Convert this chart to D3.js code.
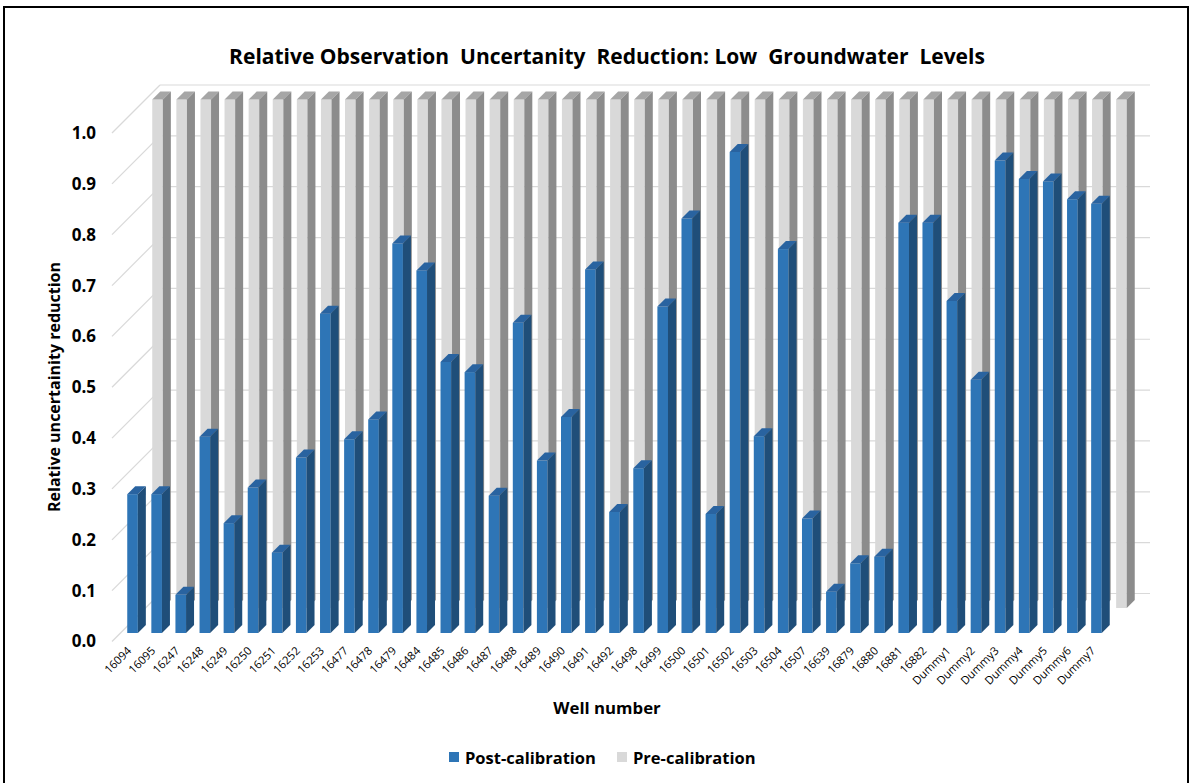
<!DOCTYPE html>
<html>
<head>
<meta charset="utf-8">
<script src="https://cdn.jsdelivr.net/npm/d3@7"></script>
<style>
  body { margin: 0; background: #fff; }
  svg text { font-family: "Open Sans", "Liberation Sans", sans-serif; fill: #000; }
</style>
</head>
<body>
<div id="chart"></div>
<script>
var wells = ["16094", "16095", "16247", "16248", "16249", "16250", "16251", "16252", "16253",
    "16477", "16478", "16479", "16484", "16485", "16486", "16487", "16488", "16489", "16490",
    "16491", "16492", "16498", "16499", "16500", "16501", "16502", "16503", "16504", "16507",
    "16639", "16879", "16880", "16881", "16882", "Dummy1", "Dummy2", "Dummy3", "Dummy4",
    "Dummy5", "Dummy6", "Dummy7"];

var postCal = [0.273, 0.273, 0.075, 0.386, 0.216, 0.286, 0.158, 0.345, 0.628,
    0.381, 0.420, 0.766, 0.713, 0.533, 0.513, 0.270, 0.610, 0.339, 0.425,
    0.715, 0.238, 0.324, 0.642, 0.815, 0.234, 0.946, 0.387, 0.755, 0.225,
    0.081, 0.137, 0.150, 0.807, 0.807, 0.653, 0.498, 0.929, 0.893,
    0.888, 0.853, 0.844];

var preCal = wells.map(function () { return 1.0; });

var yTicks = [0, 0.1, 0.2, 0.3, 0.4, 0.5, 0.6, 0.7, 0.8, 0.9, 1.0];

var svgWidth = 1192;
var svgHeight = 783;

// depth (oblique) offsets for each layer
var depthWall = 48;
var depthBlue = 8.5;
var depthGrey = 33.5;
var barDepth = 8;

var svg = d3.select("#chart")
    .append("svg")
    .attr("width", svgWidth)
    .attr("height", svgHeight);

// outer frame
svg.append("rect")
    .attr("x", 4)
    .attr("y", 7)
    .attr("width", 1184)
    .attr("height", 790)
    .attr("fill", "none")
    .attr("stroke", "#000")
    .attr("stroke-width", 2);

var xScale = d3.scaleBand()
    .domain(wells)
    .range([112, 1100])
    .paddingInner(0.56)
    .paddingOuter(0.28);

var yScale = d3.scaleLinear()
    .domain([0, 1])
    .range([641.5, 133]);

var x0 = 112, x1 = 1100;

// back wall gridlines
svg.append("g").selectAll("line")
    .data(yTicks)
    .enter()
    .append("line")
    .attr("x1", x0 + depthWall)
    .attr("x2", x1 + depthWall + 2)
    .attr("y1", d => yScale(d) - depthWall)
    .attr("y2", d => yScale(d) - depthWall)
    .attr("stroke", "#d9d9d9")
    .attr("stroke-width", 1.2);

// side wall gridlines
svg.append("g").selectAll("line")
    .data(yTicks)
    .enter()
    .append("line")
    .attr("x1", x0)
    .attr("x2", x0 + depthWall)
    .attr("y1", d => yScale(d))
    .attr("y2", d => yScale(d) - depthWall)
    .attr("stroke", "#d9d9d9")
    .attr("stroke-width", 1.2);

function drawBars(values, s, colors) {
    var g = svg.append("g");
    var w = xScale.bandwidth();
    values.forEach(function (v, i) {
        var x = xScale(wells[i]) + s;
        var yb = yScale(0) - s;
        var yt = yScale(v) - s;
        var d = barDepth;
        // front face
        g.append("rect")
            .attr("x", x)
            .attr("y", yt)
            .attr("width", w)
            .attr("height", yb - yt)
            .attr("fill", colors.front);
        // top face
        g.append("polygon")
            .attr("points", [[x, yt], [x + w, yt], [x + w + d, yt - d], [x + d, yt - d]].join(" "))
            .attr("fill", colors.top);
        // side face
        g.append("polygon")
            .attr("points", [[x + w, yt], [x + w + d, yt - d], [x + w + d, yb - d], [x + w, yb]].join(" "))
            .attr("fill", colors.side);
    });
}

drawBars(preCal, depthGrey, { front: "#d9d9d9", top: "#a6a6a6", side: "#8c8c8c" });
drawBars(postCal, depthBlue, { front: "#2e75b6", top: "#2963a0", side: "#1f4e79" });

// y axis
var leftAxis = d3.axisLeft(yScale)
    .tickValues(yTicks)
    .tickFormat(d3.format(".1f"))
    .tickSize(0)
    .tickPadding(0);

var yAxis = svg.append("g")
    .attr("transform", "translate(96, 0)")
    .call(leftAxis);
yAxis.select(".domain").remove();
yAxis.selectAll("text")
    .attr("font-size", "17px")
    .attr("font-weight", "bold")
    .attr("font-family", "'Open Sans', sans-serif")
    .attr("fill", "#000");

// x axis labels
var bottomAxis = d3.axisBottom(xScale).tickSize(0).tickPadding(0);
var xAxis = svg.append("g")
    .attr("transform", "translate(0, 641.5)")
    .call(bottomAxis);
xAxis.select(".domain").remove();
xAxis.selectAll("text")
    .attr("font-size", "11.3px")
    .attr("font-family", "'Open Sans', sans-serif")
    .attr("fill", "#000")
    .attr("text-anchor", "end")
    .attr("dy", 0)
    .attr("y", 0)
    .attr("transform", "translate(8, 10) rotate(-45)");

// titles
svg.append("text")
    .attr("x", 607)
    .attr("y", 64)
    .attr("text-anchor", "middle")
    .attr("font-size", "21px")
    .attr("font-weight", "bold")
    .style("white-space", "pre")
    .text("Relative Observation  Uncertanity  Reduction: Low  Groundwater  Levels");

svg.append("text")
    .attr("transform", "translate(60, 387) rotate(-90)")
    .attr("text-anchor", "middle")
    .attr("font-size", "16px")
    .attr("font-weight", "bold")
    .text("Relative uncertainity reduction");

svg.append("text")
    .attr("x", 607)
    .attr("y", 714)
    .attr("text-anchor", "middle")
    .attr("font-size", "16.8px")
    .attr("font-weight", "bold")
    .text("Well number");

// legend
var legendItems = [
    { label: "Post-calibration", color: "#2e75b6", x: 449 },
    { label: "Pre-calibration", color: "#d9d9d9", x: 617 }
];
var legend = svg.append("g");
legendItems.forEach(function (d) {
    legend.append("rect")
        .attr("x", d.x)
        .attr("y", 752)
        .attr("width", 10)
        .attr("height", 10)
        .attr("fill", d.color);
    legend.append("text")
        .attr("x", d.x + 16)
        .attr("y", 764)
        .attr("font-size", "16.5px")
        .attr("font-weight", "bold")
        .text(d.label);
});
</script>
</body>
</html>
